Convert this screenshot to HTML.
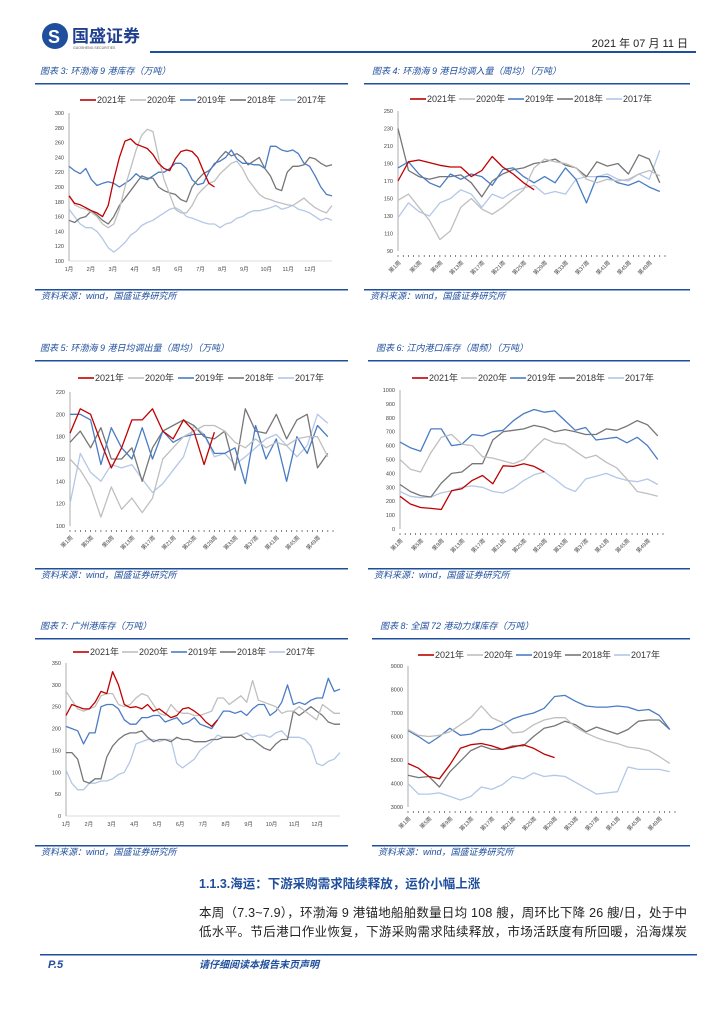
<!DOCTYPE html>
<html><head><meta charset="utf-8">
<style>
html,body{margin:0;padding:0;background:#fff;}
svg{display:block;font-family:"Liberation Sans","Noto Sans CJK SC",sans-serif;}
.ttl{font-size:9px;fill:#1f4e9c;font-style:italic;}
.src{font-size:9px;fill:#1f4e9c;font-style:italic;}
.tick{font-size:5.5px;fill:#444;}
.leg{font-size:9px;fill:#333;}
</style></head><body>
<svg id="page" width="724" height="1024" viewBox="0 0 724 1024">
<g>
 <circle cx="55" cy="36" r="13" fill="#1f4e9c"/>
 <text x="48" y="43" font-size="18" font-weight="bold" fill="#fff">S</text>
 <text x="72" y="42" font-size="17" font-weight="bold" fill="#1f3f8f">国盛证券</text>
 <text x="73" y="49" font-size="3.5" fill="#555">GUOSHENG SECURITIES</text>
 <text x="688" y="47" font-size="11" text-anchor="end" fill="#222">2021 年 07 月 11 日</text>
 <rect x="150" y="51" width="546" height="2" fill="#1f4e9c"/>
</g>
<g id="charts"></g>
<g>
 <text x="199" y="888" font-size="12.5" font-weight="bold" fill="#1f4e9c">1.1.3.海运：下游采购需求陆续释放，运价小幅上涨</text>
 <text x="199" y="917" font-size="12.5" fill="#222" textLength="488">本周（7.3~7.9），环渤海 9 港锚地船舶数量日均 108 艘，周环比下降 26 艘/日，处于中</text>
 <text x="199" y="936" font-size="12.5" fill="#222" textLength="488">低水平。节后港口作业恢复，下游采购需求陆续释放，市场活跃度有所回暖，沿海煤炭</text>
</g>
<g>
 <rect x="40" y="954" width="657" height="1.5" fill="#1f4e9c"/>
 <text x="48" y="968" font-size="11" font-weight="bold" font-style="italic" fill="#1f4e9c">P.5</text>
 <text x="199" y="968" font-size="10" font-weight="bold" font-style="italic" fill="#1f4e9c">请仔细阅读本报告末页声明</text>
</g>
</svg>
<script>
// ---- data ----
const seriesNames=["2021年","2020年","2019年","2018年","2017年"];
const seriesColors=["#c00000","#bfbfbf","#4a7cc4","#767676","#b4c7e7"];
const monthLabels=["1月","2月","3月","4月","5月","6月","7月","8月","9月","10月","11月","12月"];
const weekLabels=["第1周","第5周","第9周","第13周","第17周","第21周","第25周","第29周","第33周","第37周","第41周","第45周","第49周"];

const c3Ticks=[100,120,140,160,180,200,220,240,260,280,300];
const c3_2021=[188,178,176,172,168,165,160,175,210,240,262,265,258,255,252,244,232,225,222,238,248,250,248,240,222,205,200];
const c3_2020=[190,176,172,170,166,160,150,145,150,170,200,225,250,270,278,275,240,210,190,170,165,165,175,190,198,205,208,218,225,232,235,225,210,200,190,185,183,180,178,176,175,180,185,178,172,168,165,175];
const c3_2019=[228,222,218,225,210,202,205,207,205,200,205,210,218,212,210,215,220,220,225,232,232,225,210,203,205,220,232,235,240,250,238,232,232,230,230,225,255,255,250,248,250,245,232,228,215,200,190,188];
const c3_2018=[155,152,158,160,168,162,155,150,160,175,185,195,205,215,212,212,200,195,192,190,183,180,200,210,218,222,230,240,248,242,245,240,230,235,240,225,215,198,195,220,228,228,230,240,238,232,228,230];
const c3_2017=[170,160,150,145,145,140,130,118,112,118,125,135,140,148,152,155,160,165,170,172,168,160,158,155,152,150,150,145,150,152,158,160,165,168,168,170,172,175,170,172,175,170,168,165,160,155,158,155];

const c4Ticks=[90,110,130,150,170,190,210,230,250];
const c4_2021=[170,192,194,191,188,186,186,175,182,198,186,178,168,160];
const c4_2020=[148,155,140,125,103,113,140,150,138,132,140,150,160,185,195,192,190,185,172,168,172,170,172,178,182,176];
const c4_2019=[185,192,178,168,163,178,172,178,175,165,183,185,175,168,175,168,185,172,145,175,175,168,165,170,163,158];
const c4_2018=[230,182,175,172,175,175,177,168,152,170,178,183,185,190,192,195,188,185,175,192,187,190,178,200,195,168];
const c4_2017=[128,145,135,130,145,150,160,155,140,155,150,158,162,165,155,158,155,172,175,175,178,172,170,178,172,205];

const c5Ticks=[100,120,140,160,180,200,220];
const c5_2021=[183,205,200,175,152,170,195,195,205,185,178,195,185,155,184];
const c5_2020=[160,150,135,108,135,115,125,112,125,160,170,180,185,190,190,185,175,170,178,170,175,172,178,180,180,162];
const c5_2019=[200,200,195,155,188,170,160,188,160,185,175,180,182,182,165,165,170,138,190,160,178,140,180,165,190,180];
const c5_2018=[175,185,170,188,160,160,170,140,170,185,190,195,190,180,178,185,150,205,185,183,200,178,195,200,152,165];
const c5_2017=[120,165,148,140,155,152,155,142,130,138,150,162,190,182,162,165,155,162,170,178,182,172,162,172,200,192];

const c6Ticks=[0,100,200,300,400,500,600,700,800,900,1000];
const c6_2021=[235,180,155,148,140,275,290,350,385,325,455,450,470,450,410];
const c6_2020=[500,430,410,550,660,680,610,600,520,510,490,470,500,580,650,620,610,560,510,530,480,440,360,270,255,235];
const c6_2019=[625,585,560,720,720,600,610,680,670,700,710,780,830,860,840,850,780,710,730,640,650,660,620,660,600,500];
const c6_2018=[320,270,240,230,330,400,410,470,470,640,700,710,720,745,730,700,715,700,680,680,720,710,740,780,750,670];
const c6_2017=[270,235,225,230,260,275,300,310,300,270,260,295,350,390,410,360,300,270,360,380,400,370,350,340,360,320];

const c7Ticks=[0,50,100,150,200,250,300,350];
const c7_2021=[230,255,250,245,245,260,285,280,330,300,255,248,250,245,255,240,245,235,225,230,245,248,240,230,215,205,220];
const c7_2020=[285,265,245,240,245,250,275,280,280,255,250,255,270,280,275,255,235,230,255,240,235,235,230,230,235,240,270,270,255,265,275,260,310,265,260,255,250,235,240,240,250,240,230,220,255,245,235,235];
const c7_2019=[205,200,195,165,190,190,250,255,255,245,220,210,210,225,225,230,230,215,220,225,210,215,225,210,205,200,220,240,240,235,240,230,245,255,255,230,240,260,300,255,260,255,265,270,270,315,285,290];
const c7_2018=[145,145,130,80,75,85,85,135,160,175,185,190,190,195,180,170,175,175,170,180,175,175,170,170,170,175,175,180,180,180,185,175,175,165,155,150,165,175,175,240,230,240,250,240,230,215,210,210];
const c7_2017=[105,75,60,60,75,75,80,80,85,95,100,125,165,170,175,175,170,175,175,120,110,120,130,150,160,170,185,180,180,180,185,190,180,185,185,180,190,195,180,180,180,175,160,120,115,125,130,145];

const c8Ticks=[3000,4000,5000,6000,7000,8000,9000];
const c8_2021=[4850,4650,4300,4200,4800,5500,5650,5700,5600,5450,5550,5650,5500,5250,5100];
const c8_2020=[6300,6050,6000,6050,6200,6500,6800,7300,6800,6600,6150,6200,6500,6700,6800,6800,6400,6150,5950,5800,5700,5550,5500,5400,5150,4850];
const c8_2019=[6250,6000,5700,6000,6350,6050,6100,6300,6300,6500,6750,6900,7000,7200,7700,7750,7500,7300,7250,7250,7300,7250,7100,7150,6900,6300];
const c8_2018=[4350,4250,4300,3850,4500,4950,5400,5600,5450,5450,5600,5600,6000,6350,6450,6650,6500,6200,6400,6250,6100,6300,6650,6700,6700,6300];
const c8_2017=[4000,3550,3550,3600,3450,3300,3450,3850,3750,3950,4300,4200,4450,4300,4350,4300,4050,3800,3550,3600,3650,4700,4600,4600,4600,4500];

// ---- drawing ----
const NS="http://www.w3.org/2000/svg";
const root=document.getElementById('charts');
function mk(tag,attrs,parent){const e=document.createElementNS(NS,tag);for(const k in attrs)e.setAttribute(k,attrs[k]);parent.appendChild(e);return e;}

function drawChart(cfg){
  const g=mk('g',{},root);
  
  
  const t=mk('text',{x:cfg.tx,y:cfg.ty,class:'ttl'},g);t.textContent=cfg.title;
  
  
  const r1=mk('rect',{x:cfg.bx0,y:cfg.ty+9,width:cfg.bx1-cfg.bx0,height:1.5,fill:'#1f4e9c'},g);
  
  
  const r2=mk('rect',{x:cfg.bx0,y:cfg.sy,width:cfg.bx1-cfg.bx0,height:1.5,fill:'#1f4e9c'},g);
  
  
  const s=mk('text',{x:cfg.bx0+6,y:cfg.sy+10,class:'src'},g);s.textContent='资料来源：wind，国盛证券研究所';
  
  
  const ymin=cfg.ticks[0],ymax=cfg.ticks[cfg.ticks.length-1];
  const yS=v=>cfg.y1-(v-ymin)/(ymax-ymin)*(cfg.y1-cfg.y0);
  const xS=f=>cfg.x0+f*(cfg.x1-cfg.x0);
  // y axis
  const ax=mk('line',{x1:cfg.x0,y1:cfg.y0,x2:cfg.x0,y2:cfg.y1,stroke:'#999','stroke-width':0.8},g);
  
  
  cfg.ticks.forEach(v=>{
    const tl=mk('text',{x:cfg.x0-5,y:yS(v)+2,class:'tick','text-anchor':'end'},g);tl.textContent=String(v);
    
    
  });
  if(cfg.mode==='month'){
    const xl=mk('line',{x1:cfg.x0,y1:cfg.y1,x2:cfg.x1,y2:cfg.y1,stroke:'#bbb','stroke-width':0.6},g);
    
    
    monthLabels.forEach((m,i)=>{
      const xx=xS(i/12);
      const tl=mk('text',{x:xx,y:cfg.y1+10,class:'tick','text-anchor':'middle'},g);tl.textContent=m;
      
      
    });
  } else {
    for(let w=1;w<=52;w++){
      const xx=xS((w-1)/51);
      mk('line',{x1:xx,y1:cfg.y1+4,x2:xx,y2:cfg.y1+6,stroke:'#333','stroke-width':0.6},g);
    }
    weekLabels.forEach(lb=>{
      const w=parseInt(lb.slice(1));
      const xx=xS((w-1)/51);
      const tl=mk('text',{x:xx+3,y:cfg.y1+12,class:'tick','text-anchor':'end',transform:`rotate(-45 ${xx+3} ${cfg.y1+12})`},g);tl.textContent=lb;
      
      
    });
  }
  // legend
  let lx=cfg.lx;
  seriesNames.forEach((n,i)=>{
    const ll=mk('line',{x1:lx,y1:cfg.ly-3,x2:lx+16,y2:cfg.ly-3,stroke:seriesColors[i],'stroke-width':1.6},g);
    
    
    const lt=mk('text',{x:lx+17,y:cfg.ly,class:'leg'},g);lt.textContent=n;
    
    
    lx+=cfg.lstep;
  });
  // series (draw 2017 first, 2021 last)
  for(let i=cfg.series.length-1;i>=0;i--){
    const arr=cfg.series[i];
    const pts=arr.map((v,k)=>{
      const f=cfg.mode==='month'?k/47:(2*k)/51;
      return xS(f).toFixed(1)+','+yS(v).toFixed(1);
    }).join(' ');
    const pl=mk('polyline',{points:pts,fill:'none',stroke:seriesColors[i],'stroke-width':1.3,'stroke-linejoin':'round'},g);
    
    
  }
}

drawChart({name:'chart-bohai-stock',title:'图表 3:  环渤海 9 港库存（万吨）',tx:40,ty:74,bx0:35,bx1:348,sy:289,
  ticks:c3Ticks,x0:69,x1:332,y0:113,y1:261,mode:'month',lx:80,ly:103,lstep:50,
  series:[c3_2021,c3_2020,c3_2019,c3_2018,c3_2017]});
drawChart({name:'chart-bohai-inflow',title:'图表 4:  环渤海 9 港日均调入量（周均）（万吨）',tx:372,ty:74,bx0:364,bx1:690,sy:289,
  ticks:c4Ticks,x0:398,x1:665,y0:111,y1:251,mode:'week',lx:410,ly:102,lstep:49,
  series:[c4_2021,c4_2020,c4_2019,c4_2018,c4_2017]});
drawChart({name:'chart-bohai-outflow',title:'图表 5:  环渤海 9 港日均调出量（周均）（万吨）',tx:40,ty:351,bx0:35,bx1:348,sy:568,
  ticks:c5Ticks,x0:70,x1:333,y0:392,y1:526,mode:'week',lx:78,ly:381,lstep:50,
  series:[c5_2021,c5_2020,c5_2019,c5_2018,c5_2017]});
drawChart({name:'chart-river-port-stock',title:'图表 6:  江内港口库存（周频）（万吨）',tx:376,ty:351,bx0:368,bx1:690,sy:568,
  ticks:c6Ticks,x0:400,x1:663,y0:390,y1:529,mode:'week',lx:412,ly:381,lstep:49,
  series:[c6_2021,c6_2020,c6_2019,c6_2018,c6_2017]});
drawChart({name:'chart-guangzhou-stock',title:'图表 7:  广州港库存（万吨）',tx:40,ty:629,bx0:35,bx1:348,sy:845,
  ticks:c7Ticks,x0:66,x1:340,y0:663,y1:816,mode:'month',lx:73,ly:655,lstep:49,
  series:[c7_2021,c7_2020,c7_2019,c7_2018,c7_2017]});
drawChart({name:'chart-72-ports-stock',title:'图表 8:  全国 72 港动力煤库存（万吨）',tx:380,ty:629,bx0:372,bx1:690,sy:845,
  ticks:c8Ticks,x0:408,x1:675,y0:666,y1:807,mode:'week',lx:418,ly:658,lstep:49,
  series:[c8_2021,c8_2020,c8_2019,c8_2018,c8_2017]});
</script>
</body></html>
